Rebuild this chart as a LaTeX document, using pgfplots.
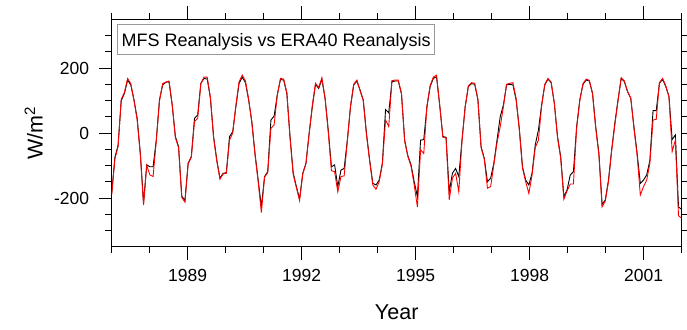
\documentclass[border=0pt]{standalone}
\usepackage{fontspec}
\setmainfont{Liberation Sans}
\usepackage{pgfplots}
\usepackage{pgfplotstable}
\pgfplotsset{compat=1.18}

% Monthly net heat flux (W/m^2), Jan 1987 -- Dec 2001, month index m
\pgfplotstableread{
m mfs era
0 -186 -190
1 -75 -80
2 -38 -42
3 100 104
4 122 125
5 163 168
6 148 152
7 102 100
8 45 40
9 -63 -68
10 -215 -222
11 -98 -100
12 -104 -129
13 -104 -134
14 -22 -25
15 102 98
16 148 152
17 156 157
18 158 160
19 86 88
20 -11 -15
21 -42 -45
22 -194 -198
23 -208 -213
24 -93 -95
25 -73 -75
26 45 35
27 55 45
28 153 153
29 168 172
30 166 172
31 107 110
32 -11 -15
33 -83 -86
34 -139 -142
35 -124 -126
36 -122 -124
37 -11 -22
38 4 0
39 81 85
40 153 158
41 172 178
42 155 160
43 102 104
44 35 33
45 -63 -66
46 -145 -150
47 -227 -245
48 -134 -136
49 -119 -122
50 40 14
51 52 25
52 117 117
53 165 168
54 163 166
55 122 124
56 -11 -15
57 -123 -128
58 -165 -168
59 -203 -208
60 -124 -126
61 -93 -95
62 -1 -3
63 81 84
64 150 153
65 137 140
66 166 170
67 107 108
68 9 5
69 -104 -116
70 -98 -119
71 -165 -181
72 -114 -134
73 -109 -132
74 -22 -25
75 81 84
76 148 150
77 160 163
78 132 130
79 102 100
80 -1 -5
81 -83 -86
82 -155 -160
83 -160 -173
84 -145 -150
85 -93 -96
86 72 40
87 62 20
88 158 161
89 160 163
90 160 163
91 120 122
92 -22 -25
93 -70 -72
94 -98 -102
95 -150 -160
96 -196 -228
97 -22 -52
98 -20 -63
99 81 84
100 143 146
101 168 172
102 173 178
103 86 86
104 -11 -13
105 -13 -15
106 -180 -206
107 -124 -139
108 -109 -124
109 -134 -181
110 -22 -25
111 81 80
112 143 145
113 152 155
114 150 153
115 102 104
116 -42 -45
117 -78 -80
118 -150 -170
119 -139 -165
120 -93 -98
121 -22 -30
122 50 19
123 86 80
124 148 150
125 150 153
126 148 155
127 102 106
128 14 10
129 -104 -108
130 -145 -150
131 -160 -186
132 -124 -130
133 -37 -45
134 9 -22
135 86 82
136 148 150
137 166 168
138 155 157
139 91 92
140 -11 -14
141 -73 -78
142 -196 -204
143 -175 -178
144 -129 -157
145 -119 -157
146 19 15
147 102 100
148 150 152
149 163 166
150 160 162
151 122 120
152 19 15
153 -63 -68
154 -220 -227
155 -206 -210
156 -145 -150
157 -52 -55
158 30 25
159 102 100
160 168 170
161 158 160
162 127 128
163 107 108
164 19 15
165 -63 -68
166 -155 -191
167 -145 -165
168 -129 -145
169 -85 -93
170 69 40
171 69 42
172 153 155
173 165 168
174 143 145
175 112 112
176 -20 -57
177 -6 -22
178 -228 -255
179 -235 -262
}\fluxdata

\begin{document}
\begin{tikzpicture}[x=1bp,y=1bp]
\path[use as bounding box] (0,0) rectangle (687,329);
\begin{axis}[
  at={(111.7bp,82.3bp)}, anchor=south west,
  scale only axis, width=570bp, height=227.4bp,
  xmin=1987, xmax=2002, ymin=-350, ymax=350,
  xtick={1989,1992,1995,1998,2001},
  xticklabels={1989,1992,1995,1998,2001},
  minor xtick={1987,...,2002},
  ytick={-200,0,200},
  yticklabels={-200,0,200},
  minor ytick={-300,-250,...,300},
  tick align=outside, tick pos=both,
  major tick length=13bp, minor tick length=6.5bp,
  every tick/.style={black, line width=0.9bp},
  axis line style={line width=1.1bp},
  ticklabel style={font=\fontsize{17.5bp}{20bp}\selectfont},
  xticklabel style={yshift=-6bp},
  yticklabel style={xshift=-6bp},
  xlabel={Year}, ylabel={W/m\textsuperscript{2}},
  label style={font=\fontsize{21.5bp}{24bp}\selectfont},
  xlabel style={at={(axis description cs:0.5,-0.287)}, anchor=center},
  ylabel style={at={(axis description cs:-0.137,0.5)}, anchor=center},
]
\addplot[black, line width=0.9bp] table[x expr={1987+\thisrow{m}*15/179}, y=mfs] {\fluxdata};
\addplot[red, line width=0.9bp] table[x expr={1987+\thisrow{m}*15/179}, y=era] {\fluxdata};
\node[draw=black!40, fill=white, line width=0.8bp, anchor=north west,
  minimum width=317bp, minimum height=30.3bp, text height=13bp, text depth=0bp,
  inner sep=0pt, font=\fontsize{18bp}{21bp}\selectfont]
  at (rel axis cs:0.0098,0.979) {MFS Reanalysis vs ERA40 Reanalysis};
\end{axis}
\end{tikzpicture}
\end{document}
